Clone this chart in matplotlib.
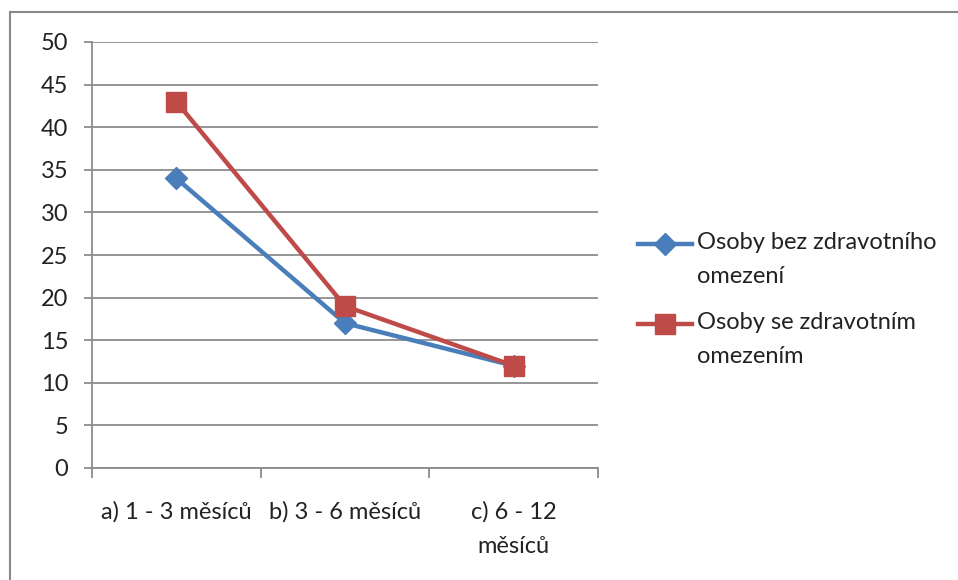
import matplotlib.pyplot as plt
from matplotlib.patches import Rectangle
from matplotlib.lines import Line2D

plt.rcParams['font.family'] = ['Lato', 'DejaVu Sans']

categories = ["a) 1 - 3 měsíců", "b) 3 - 6 měsíců", "c) 6 - 12\nměsíců"]
bez_omezeni = [34, 17, 12]
se_omezenim = [43, 19, 12]
yticks = list(range(0, 51, 5))
series_names = ["Osoby bez zdravotního\nomezení", "Osoby se zdravotním\nomezením"]

blue = "#4A7EBB"
red = "#BE4B48"
grid_c = "#8c8c8c"
txt_c = "#222222"
fs = 17

W, H = 958, 580
fig = plt.figure(figsize=(W / 100, H / 100), dpi=100)

# outer chart frame
fig.patches.append(Rectangle((10 / W, -0.1), 1.2, 1 - 12 / H + 0.1, transform=fig.transFigure,
                             fill=False, edgecolor="#8a8a8a", linewidth=1.5))

ax = fig.add_axes([92 / W, 1 - 468 / H, (598 - 92) / W, (468 - 42) / H])
x = [0.5, 1.5, 2.5]
ax.plot(x, bez_omezeni, color=blue, lw=3.2, marker="D", markersize=11, zorder=3, clip_on=False)
ax.plot(x, se_omezenim, color=red, lw=3.2, marker="s", markersize=14, zorder=4, clip_on=False)

ax.set_xlim(0, 3)
ax.set_ylim(0, 50)
ax.set_yticks(yticks)
ax.set_yticklabels([str(v) for v in yticks], fontsize=fs, color=txt_c)
ax.set_xticks([0, 1, 2, 3])
ax.set_xticklabels([])
ax.set_xticks(x, minor=True)
ax.set_xticklabels(categories, minor=True, fontsize=fs, color=txt_c,
                   va="top", linespacing=1.75)
ax.tick_params(axis="x", which="minor", length=0, pad=24)
ax.tick_params(axis="x", which="major", length=7, color=grid_c, width=1.3)
ax.tick_params(axis="y", length=6, color=grid_c, width=1.3, pad=11)
ax.grid(axis="y", color=grid_c, lw=1.3)
for s in ["top", "right"]:
    ax.spines[s].set_visible(False)
for s in ["left", "bottom"]:
    ax.spines[s].set_color(grid_c)
    ax.spines[s].set_linewidth(1.3)

# legend: handle aligned with the first line of each label
legend_items = [(blue, "D", 11), (red, "s", 14)]
for i, ((c, m, ms), name) in enumerate(zip(legend_items, series_names)):
    y = 1 - (244 + 80 * i) / H
    fig.add_artist(Line2D([638 / W, 692 / W], [y, y], transform=fig.transFigure,
                          color=c, lw=3.2))
    fig.add_artist(Line2D([665 / W], [y], transform=fig.transFigure,
                          color=c, marker=m, markersize=ms, lw=0))
    fig.text(697 / W, y + 12 / H, name, fontsize=fs, color=txt_c, va="top",
             ha="left", linespacing=1.75)

fig.savefig("out.png", dpi=100, facecolor="white")
